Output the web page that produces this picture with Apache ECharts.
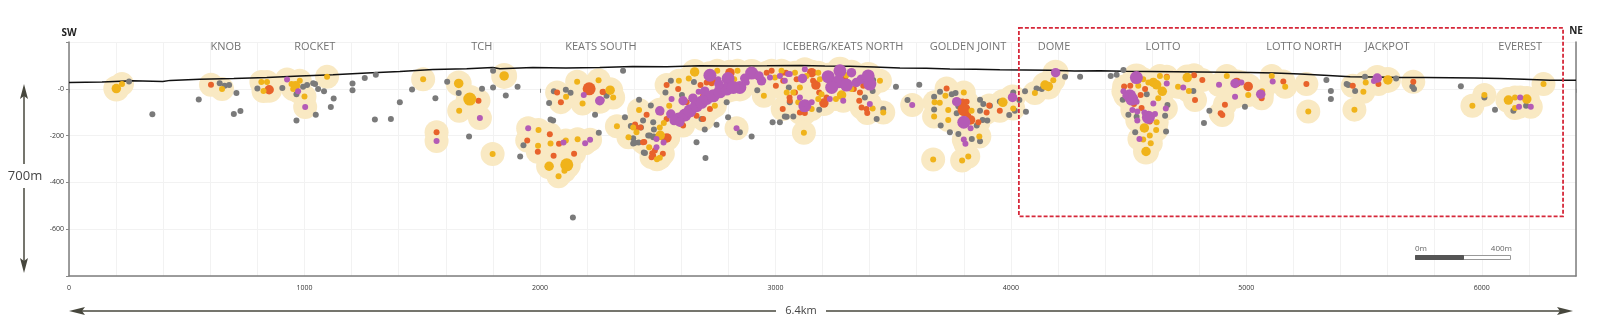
<!DOCTYPE html>
<html><head><meta charset="utf-8">
<script src="https://cdn.jsdelivr.net/npm/echarts@6/dist/echarts.min.js"></script>
<style>html,body{margin:0;padding:0;background:#fff}#c{width:1600px;height:326px}</style>
</head><body><div id="c"></div>
<script>
// ---- DATA (metres along section, elevation m) ----
const surface = [[0,27],[140,29],[271,34],[398,31],[430,36],[555,41],[700,44],[840,48],[980,55],[1121,60],[1265,67],[1405,74],[1545,82],[1689,86],[1800,91],[1830,86],[1970,91],[2110,89],[2254,91],[2394,95],[2539,94],[2679,98],[2820,97],[2964,98],[3104,100],[3210,97],[3316,96],[3420,93],[3529,89],[3641,88],[3741,85],[3850,84],[3953,81],[4060,80],[4166,79],[4270,76],[4378,77],[4480,75],[4591,74],[4700,73],[4803,72],[4910,71],[5016,70],[5120,67],[5228,63],[5330,58],[5441,52],[5550,50],[5653,48],[5760,48],[5866,47],[5970,46],[6077,44],[6180,41],[6290,37],[6400,37]];

const grey = [[255,31,1],[354,-109,1],[640,24,1],[661,13,1],[680,16,1],[711,-18,1],[551,-46,1],[700,-108,1],[728,-95,1],[800,1,1],[906,3,1],[966,-23,1],[994,9,1],[1011,16,1],[1037,24,1],[1045,20,1],[1058,-1,1],[1083,-11,1],[1124,-41,1],[1048,-111,1],[1112,-78,1],[966,-136,1],[1204,23,1],[1204,-6,1],[1256,46,1],[1303,60,1],[1299,-131,1],[1367,-129,1],
[1457,-3,1],[1405,-58,1],[1606,30,1],[1655,-18,1],[1556,-40,1],[1754,0,1],[1801,6,1],[1801,77,1],[1855,-29,1],[1905,9,1],[2059,-11,1],[2110,-4,1],[2130,-17,1],[2039,-61,1],[2283,-30,1],[2353,77,1],[2234,-111,1],[2045,-131,1],[2056,-136,1],
[2250,-188,1],[1930,-241,1],[1916,-289,1],[1699,-204,1],[2140,-550,1],
[2386,-159,1],[2429,-165,1],[2396,-234,1],[2419,-230,1],[2460,-200,1],[2484,-204,1],[2441,-272,1],[2471,-71,1],[2361,-122,1],[2421,-47,1],[2533,-16,1],[2556,34,1],[2603,-27,1],[2654,29,1],[2923,-6,1],[3057,6,1],[3040,-118,1],[3076,-118,1],[3061,-58,1],[2686,-129,1],[2793,-58,1],[2799,-122,1],[2750,-154,1],[2700,-174,1],[2849,-186,1],[2899,-204,1],[2665,-228,1],[2703,-296,1],[2438,-136,1],[2481,-143,1],[2484,-174,1],[2467,-200,1],[2481,-207,1],[2403,-231,1],[2446,-274,1],[2517,-207,1],[2396,-211,1],[2988,-143,1],[3019,-143,1],
[3415,38,1],[3413,-9,1],[3512,9,1],[3611,17,1],[3048,-119,1],[3186,-89,1],[3380,-37,1],[3458,-86,1],[3430,-129,1],[3561,-48,1],
[3699,-13,1],[3674,-34,1],[3765,-18,1],[3777,-75,1],[3869,-47,1],[4010,-16,1],[3674,-88,1],[3770,-105,1],[3993,-112,1],[3880,-133,1],[3855,-157,1],[3702,-157,1],[3741,-186,1],[3777,-193,1],[3834,-214,1],[3869,-224,1],[3869,-94,1],[3883,-65,1],[3900,-136,1],[3911,-72,1],[3953,-54,1],[4017,-94,1],[4036,-48,1],[3749,-23,1],
[4060,-11,1],[4064,-98,1],[4109,1,1],[4131,-1,1],[4230,52,1],[4294,51,1],
[4424,55,1],[4449,60,1],[4478,80,1],[4475,-47,1],[4577,-23,1],[4499,-111,1],[4534,-119,1],[4655,-115,1],[4528,-186,1],[4659,-183,1],[4665,-69,1],[4775,-9,1],[4843,-94,1],[4994,-77,1],[4820,-146,1],
[5340,38,1],[5359,-9,1],[5359,-44,1],[5426,20,1],[5433,16,1],[5462,-9,1],[5504,51,1],[5636,44,1],[5705,10,1],[5712,-1,1],[5911,11,1],[6011,-37,1],[6056,-89,1],[6134,-94,1],[6188,-72,1]];

const orange = [[603,17,1],[850,-4,2],[1739,-51,1],[2073,-16,1],[2089,-57,1],[2209,0,3],[2266,-14,1],
[1561,-186,1],[2042,-194,1],[1946,-221,1],[2081,-235,1],[1991,-269,1],[2058,-286,1],[2145,-278,1],
[2404,-153,1],[2410,-165,1],[2443,-227,1],[2477,-275,1],[2481,-286,1],[2522,-278,1],[2539,-210,2],[2453,-111,1],[2268,-13,1],[2514,-101,1],[2538,16,1],[2587,-1,1],[2682,16,1],[2708,27,1],[2729,24,1],[2746,33,1],[2807,69,2],[2920,55,1],[2963,69,1],[2984,77,1],[3002,13,1],[3031,69,1],[3083,-16,1],[3031,-86,1],[3060,-37,1],[2623,-58,1],[2693,-30,1],[2538,-129,1],[2608,-157,1],[2665,-115,1],[2722,-86,1],[2693,-129,1],[2545,-207,1],[2438,-228,1],[2474,-292,1],[2488,-264,1],[2427,-165,1],
[3045,69,1],[3033,34,1],[3090,41,1],[3154,69,2],[3160,34,1],[3172,16,2],[3245,27,1],[3295,44,1],[3373,13,1],[3333,-1,1],[3061,-51,1],[3104,-101,1],[3125,-103,1],[3206,-61,2],[3186,-16,1],[3217,-37,1],[3359,-16,1],[3356,-51,1],[3366,-80,1],[3387,-86,1],[3390,-103,1],
[3727,1,1],[3795,-54,1],[3812,-55,1],[3908,-71,1],[3801,-89,3],[3897,-101,1],[3953,-94,1],[3829,-133,2],[3819,-115,1],[3862,-143,1],
[4481,10,1],[4507,13,1],[4570,-1,1],[4523,-65,1],[4590,-140,1],[4662,51,1],[4778,58,1],[4813,38,1],[4959,27,2],[5008,10,2],[5157,31,1],[5065,-40,1],[4782,-48,1],[4909,-68,1],[4891,-105,1],[4898,-112,1],[4551,-26,1],[4622,13,1],[4555,-82,1],
[5255,20,1],[5452,13,1],[5561,20,1],[5709,30,1]];

const yellow = [[201,1,2],[225,20,1],[650,-1,1],[817,29,1],[841,29,1],[826,-9,1],[945,20,1],[962,13,2],[980,34,1],[952,-1,1],[1000,-33,1],[1096,51,1],
[1504,41,1],[1655,23,2],[1702,-44,3],[1848,55,2],[1657,-94,1],[2158,30,1],[2111,-34,1],[2249,37,1],[2298,-6,2],[2311,-37,1],[2181,-63,1],
[1994,-176,1],[1992,-243,1],[2045,-234,1],[2110,-221,1],[2160,-216,1],[1799,-279,1],[2039,-331,2],[2114,-325,3],[2104,-350,1],[2079,-374,1],
[2327,-160,1],[2376,-207,1],[2464,-250,1],[2497,-301,1],[2509,-295,1],[2511,-199,2],[2421,-91,1],
[2590,34,1],[2549,-72,1],[2632,44,1],[2657,72,2],[2753,77,1],[2839,77,1],[2825,41,1],[2951,-30,1],[2998,48,1],[3048,-16,1],[3097,-58,1],[2743,-72,1],[2509,-165,1],[2526,-146,1],[2396,-165,1],[2410,-186,1],[2594,-136,1],
[3026,77,1],[3083,69,1],[3132,55,1],[3182,69,1],[3189,41,1],[3302,58,1],[3323,-1,1],[3444,34,1],[3104,6,1],[3076,-16,1],[3154,-86,1],[3182,-44,1],[3196,-23,1],[3281,-27,2],[3257,-44,1],[3413,-84,1],[3458,-101,1],[3121,-188,1],
[3722,-30,1],[3800,-16,1],[3676,-58,1],[3698,-60,1],[3734,-91,1],[3833,-94,1],[3966,-58,2],[3674,-118,1],[3734,-133,1],[3866,-204,1],[3670,-302,1],[3793,-306,1],[3819,-289,1],[4010,-84,1],
[4102,-18,1],[4145,16,2],[4159,10,2],[4180,37,1],
[4562,41,1],[4584,27,1],[4605,27,2],[4619,17,2],[4643,-11,2],[4626,-40,1],[4619,-143,1],[4567,-167,2],[4617,-176,1],[4562,-217,1],[4594,-233,1],[4574,-268,2],[4749,48,2],[4710,9,1],[4756,-9,1],[4917,55,1],[5108,55,1],[5165,9,1],[5008,-27,1],[4633,55,1],[4662,48,1],[4590,-200,1],[4541,13,1],
[5263,-97,1],[5067,-11,1],[5497,-13,1],[5507,27,1],[5601,38,2],[5459,-89,1],[5960,-72,1],[6011,-26,1],[6113,-48,2],[6141,-37,1],[6191,-44,2],[6141,-82,1],[6262,20,1]];

const purple = [[926,40,1],[973,-11,1],[1003,-78,1],[1745,-125,1],[2186,-26,1],[2254,-51,2],
[1561,-223,1],[1950,-169,1],[2100,-230,1],[2192,-233,1],[2213,-218,1],[2495,-250,1],[2525,-230,1],
[2262,-48,1],[2509,-94,2],[2559,-44,1],[2608,-51,2],[2674,-13,1],[2722,58,3],[2757,41,1],[2799,44,3],[2849,6,3],[2878,27,1],[2899,67,3],[2941,34,2],[2977,48,1],[3019,55,1],[3040,34,1],[3054,63,1],
[2589,-129,3],[2616,-112,3],[2637,-94,3],[2665,-72,3],[2686,-58,3],[2708,-41,3],[2736,-30,3],[2764,-13,3],[2793,-1,3],[2821,6,3],[2556,-108,2],[2570,-136,2],[2594,-143,2],[2495,-214,1],[2835,-169,1],
[2650,-40,2],[2700,-10,2],[2760,20,2],[2870,45,2],[2930,55,2],
[3061,63,1],[3115,44,2],[3125,84,1],[3224,52,3],[3274,77,3],[3267,30,3],[3239,6,3],[3302,16,3],[3323,69,2],[3344,27,2],[3365,41,2],[3394,55,3],[3401,20,3],[3104,-37,1],[3125,-72,3],[3154,-58,1],[3118,-86,1],[3231,-44,1],[3288,-51,1],[3401,-65,1],[3581,-69,1],
[3770,-55,2],[4007,-37,2],[3800,-143,3],[3829,-169,1],[3800,-217,1],[3807,-235,1],
[4190,69,2],
[4533,48,3],[4505,-30,3],[4513,-44,3],[4478,-11,1],[4486,-30,1],[4534,-55,1],[4605,-63,1],[4662,23,1],[4516,-91,1],[4537,-97,1],[4584,-122,3],[4612,-108,1],[4537,-136,1],[4658,-84,1],[4546,-214,1],[4732,6,1],[4884,17,1],[4952,23,2],[4979,27,1],[5061,-23,2],[5112,31,1],[4952,-34,1],[4567,-101,1],
[5542,33,1],[5556,46,2],[6163,-37,1],[6158,-77,1],[6208,-77,1]];

const regionNames = ['KNOB','ROCKET','TCH','KEATS SOUTH','KEATS','ICEBERG/KEATS NORTH','GOLDEN JOINT','DOME','LOTTO','LOTTO NORTH','JACKPOT','EVEREST'];
const regionX = [666,1044,1753,2259,2790,3287,3818,4183,4646,5245,5598,6163];
const regionY = 180;
const xTickLabels = [0,1000,2000,3000,4000,5000,6000];
const yTickLabels = {'0':'-0','-200':'-200','-400':'-400','-600':'-600'};
const boxX = [4034, 6345];
const boxY = [260, -545];
const sectionLabel = '6.4km', depthLabel = '700m', scaleLabels = ['0m','400m'];

// ---- CHART ----
const FONT = "'Open Sans', 'DejaVu Sans', sans-serif";
const sizeOf = g => [0, 6, 9.5, 13][g];
const halos = orange.concat(yellow, purple);
const chart = echarts.init(document.getElementById('c'), null, {renderer: 'canvas'});
const dotSeries = (data, color, z) => ({
  type: 'scatter', data: data, z: z, silent: true,
  symbolSize: v => sizeOf(v[2]),
  itemStyle: {color: color, opacity: 1},
  emphasis: {disabled: true}
});
chart.setOption({
  animation: false,
  backgroundColor: '#ffffff',
  textStyle: {fontFamily: FONT},
  grid: {left: 69, right: 24, top: 42, bottom: 50, outerBoundsMode: 'none', containLabel: false},
  xAxis: [
    {type: 'value', min: 0, max: 6400, interval: 200,
      axisLine: {show: true, onZero: false, lineStyle: {color: '#7d7d7d', width: 1.5}},
      axisTick: {show: false}, axisLabel: {show: false},
      splitLine: {show: true, lineStyle: {color: '#f2f2f2', width: 1}}},
    {type: 'value', min: 0, max: 6400, interval: 1000, position: 'bottom',
      axisLine: {show: false}, splitLine: {show: false},
      axisTick: {show: true, length: 4, lineStyle: {color: '#888'}},
      axisLabel: {show: true, fontSize: 7, color: '#333', margin: 8, fontFamily: FONT,
        formatter: v => xTickLabels.indexOf(v) >= 0 ? String(v) : ''}}
  ],
  yAxis: [
    {type: 'value', min: -800, max: 200, interval: 200,
      axisLine: {show: true, onZero: false, lineStyle: {color: '#7d7d7d', width: 1.5}},
      axisTick: {show: true, length: 3, lineStyle: {color: '#888'}},
      axisLabel: {fontSize: 7, color: '#333', margin: 5, fontFamily: FONT,
        formatter: v => yTickLabels[String(v)] || ''},
      splitLine: {show: true, lineStyle: {color: '#f2f2f2', width: 1}}},
    {type: 'value', min: -800, max: 200, interval: 200, position: 'right',
      axisLine: {show: true, onZero: false, lineStyle: {color: '#7d7d7d', width: 1.5}},
      axisTick: {show: false}, axisLabel: {show: false}, splitLine: {show: false}}
  ],
  series: [
    {type: 'scatter', data: halos, z: 1, silent: true,
      symbolSize: v => 22 + v[2] * 2,
      itemStyle: {color: '#f9e9c3', opacity: 1}, emphasis: {disabled: true}},
    {type: 'line', data: surface, z: 2, silent: true, showSymbol: false, symbol: 'none',
      lineStyle: {color: '#111', width: 1.5}, emphasis: {disabled: true}},
    dotSeries(grey, '#7a7a7a', 3),
    dotSeries(orange, '#e8622b', 4),
    dotSeries(yellow, '#f0b31a', 5),
    dotSeries(purple, '#b45bb6', 6),
    {type: 'scatter', z: 7, silent: true, symbolSize: 1,
      itemStyle: {color: 'rgba(0,0,0,0)'},
      data: regionNames.map((n, i) => ({name: n, value: [regionX[i], regionY]})),
      label: {show: true, position: 'inside', formatter: '{b}', color: '#505050', fontSize: 11, fontFamily: FONT}}
  ]
});

const a = chart.convertToPixel({xAxisIndex: 0, yAxisIndex: 0}, [boxX[0], boxY[0]]);
const b = chart.convertToPixel({xAxisIndex: 0, yAxisIndex: 0}, [boxX[1], boxY[1]]);
const ARW = '#47473d';
chart.setOption({
  graphic: [
    {type: 'rect', z: 100, shape: {x: a[0], y: a[1], width: b[0] - a[0], height: b[1] - a[1]},
      style: {fill: 'none', stroke: '#d6283a', lineWidth: 1.8, lineDash: [4, 2]}},
    {type: 'text', z: 100, style: {text: 'SW', x: 69, y: 33, align: 'center', verticalAlign: 'middle', fontSize: 10, fontWeight: 'bold', fill: '#222', fontFamily: FONT}},
    {type: 'text', z: 100, style: {text: 'NE', x: 1576, y: 31, align: 'center', verticalAlign: 'middle', fontSize: 10, fontWeight: 'bold', fill: '#222', fontFamily: FONT}},
    // vertical arrow
    {type: 'line', z: 100, shape: {x1: 24, y1: 94, x2: 24, y2: 164}, style: {stroke: ARW, lineWidth: 1.5}},
    {type: 'line', z: 100, shape: {x1: 24, y1: 188, x2: 24, y2: 262}, style: {stroke: ARW, lineWidth: 1.5}},
    {type: 'polygon', z: 100, shape: {points: [[24, 84], [28, 99], [24, 96], [20, 99]]}, style: {fill: ARW}},
    {type: 'polygon', z: 100, shape: {points: [[24, 273], [28, 258], [24, 261], [20, 258]]}, style: {fill: ARW}},
    {type: 'text', z: 100, style: {text: depthLabel, x: 25, y: 176, align: 'center', verticalAlign: 'middle', fontSize: 13, fill: '#444', fontFamily: FONT}},
    // horizontal arrow
    {type: 'line', z: 100, shape: {x1: 80, y1: 311, x2: 776, y2: 311}, style: {stroke: ARW, lineWidth: 1.5}},
    {type: 'line', z: 100, shape: {x1: 826, y1: 311, x2: 1562, y2: 311}, style: {stroke: ARW, lineWidth: 1.5}},
    {type: 'polygon', z: 100, shape: {points: [[69, 311], [85, 307], [82, 311], [85, 315]]}, style: {fill: ARW}},
    {type: 'polygon', z: 100, shape: {points: [[1573, 311], [1557, 307], [1560, 311], [1557, 315]]}, style: {fill: ARW}},
    {type: 'text', z: 100, style: {text: sectionLabel, x: 801, y: 311, align: 'center', verticalAlign: 'middle', fontSize: 11, fill: '#444', fontFamily: FONT}},
    // scale bar
    {type: 'text', z: 100, style: {text: scaleLabels[0], x: 1415, y: 249, align: 'left', verticalAlign: 'middle', fontSize: 8, fill: '#666', fontFamily: FONT}},
    {type: 'text', z: 100, style: {text: scaleLabels[1], x: 1512, y: 249, align: 'right', verticalAlign: 'middle', fontSize: 8, fill: '#666', fontFamily: FONT}},
    {type: 'rect', z: 100, shape: {x: 1415.5, y: 255.5, width: 95, height: 4}, style: {fill: '#fff', stroke: '#999', lineWidth: 1}},
    {type: 'rect', z: 101, shape: {x: 1415.5, y: 255.5, width: 48, height: 4}, style: {fill: '#555', stroke: '#555', lineWidth: 1}}
  ]
});
</script></body></html>
